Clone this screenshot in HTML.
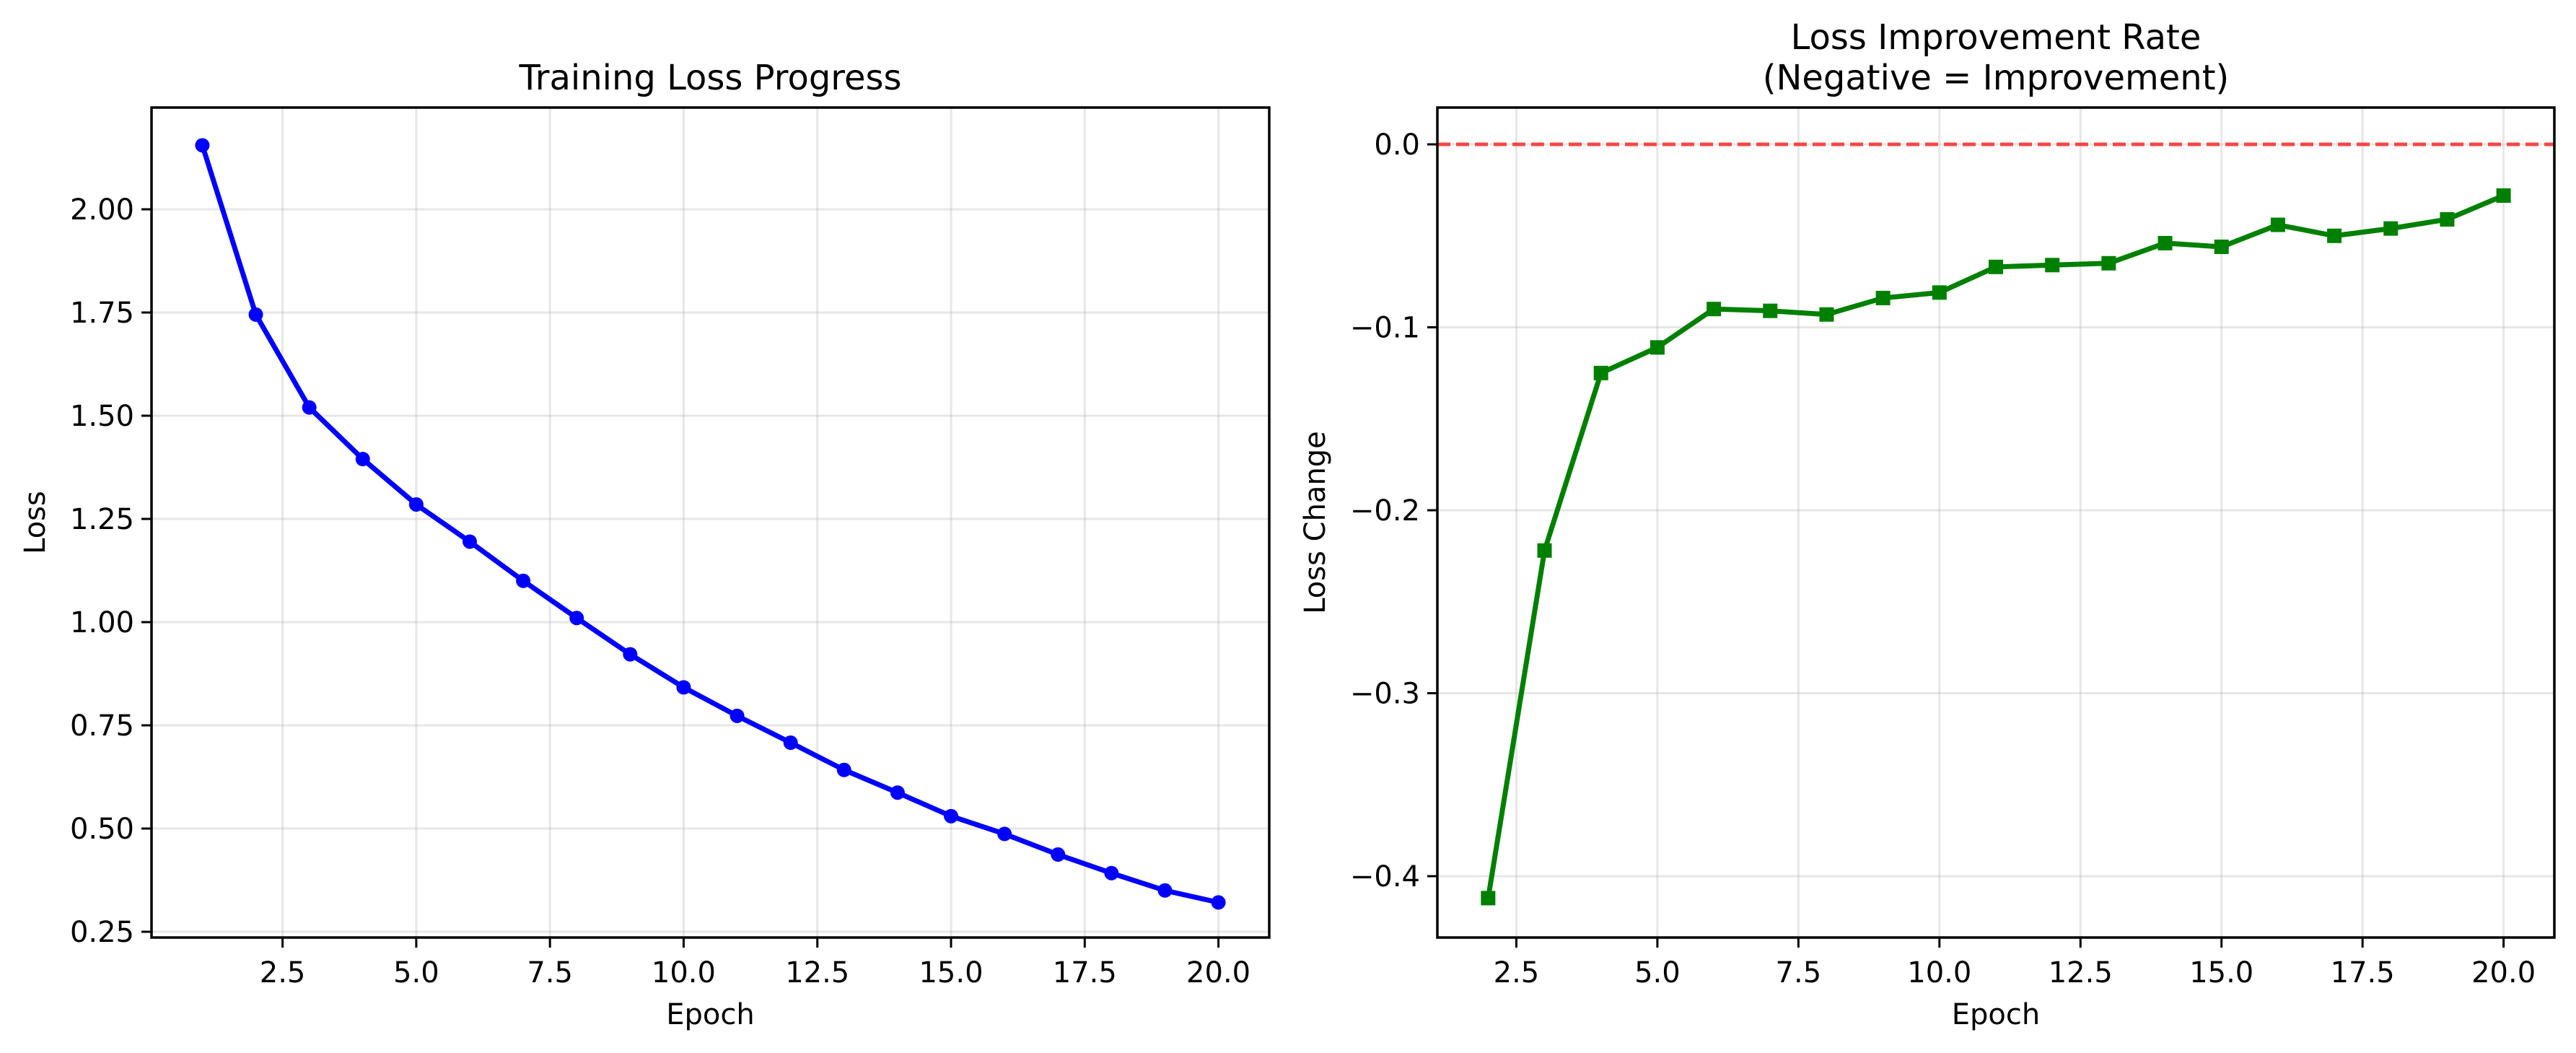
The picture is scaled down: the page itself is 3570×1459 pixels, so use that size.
<!DOCTYPE html>
<html><head><meta charset="utf-8"><style>
html,body{margin:0;padding:0;background:#fff}
svg{display:block;font-family:"DejaVu Sans","Liberation Sans",sans-serif}
</style></head><body>
<svg id="chart" width="3570" height="1459" viewBox="0 0 3570 1459" xmlns="http://www.w3.org/2000/svg"></svg>
<script>
const epochsLoss = [1,2,3,4,5,6,7,8,9,10,11,12,13,14,15,16,17,18,19,20];
const lossValues = [2.155,1.745,1.52,1.395,1.285,1.195,1.10,1.01,0.922,0.842,0.773,0.708,0.642,0.587,0.530,0.487,0.437,0.392,0.350,0.321];
const epochsDiff = [2,3,4,5,6,7,8,9,10,11,12,13,14,15,16,17,18,19,20];
const diffValues = [-0.412,-0.222,-0.125,-0.111,-0.090,-0.091,-0.093,-0.084,-0.081,-0.067,-0.066,-0.065,-0.054,-0.056,-0.044,-0.050,-0.046,-0.041,-0.028];
const xTicks = [2.5,5.0,7.5,10.0,12.5,15.0,17.5,20.0];
const xTickLabels = ["2.5","5.0","7.5","10.0","12.5","15.0","17.5","20.0"];
const yTicksLoss = [0.25,0.5,0.75,1.0,1.25,1.5,1.75,2.0];
const yTickLabelsLoss = ["0.25","0.50","0.75","1.00","1.25","1.50","1.75","2.00"];
const yTicksDiff = [-0.4,-0.3,-0.2,-0.1,0.0];
const yTickLabelsDiff = ["\u22120.4","\u22120.3","\u22120.2","\u22120.1","0.0"];

const NS="http://www.w3.org/2000/svg";
const svg=document.getElementById('chart');
function mk(tag,attrs,parent){const e=document.createElementNS(NS,tag);for(const k in attrs)e.setAttribute(k,attrs[k]);(parent||svg).appendChild(e);return e;}

function panel(opt){
  const {L,R,T,B,xmin,xmax,ymin,ymax}=opt;
  const g=mk('g',{});
  
  
  const sx=v=>L+(v-xmin)/(xmax-xmin)*(R-L);
  const sy=v=>B-(v-ymin)/(ymax-ymin)*(B-T);
  // grid
  opt.xt.forEach((t,i)=>{
    const l=mk('line',{x1:sx(t),x2:sx(t),y1:T,y2:B,stroke:'#b0b0b0','stroke-opacity':0.3,'stroke-width':3},g);
    
    
  });
  opt.yt.forEach((t,i)=>{
    const l=mk('line',{x1:L,x2:R,y1:sy(t),y2:sy(t),stroke:'#b0b0b0','stroke-opacity':0.3,'stroke-width':3},g);
    
    
  });
  if(opt.zeroLine){
    const z=mk('line',{x1:L,x2:R,y1:sy(0),y2:sy(0),stroke:'#ff0000','stroke-opacity':0.7,'stroke-width':5,'stroke-dasharray':'18 8'},g);
    
    
  }
  // series line
  const pts=opt.xs.map((x,i)=>sx(x)+','+sy(opt.ys[i])).join(' ');
  const pl=mk('polyline',{points:pts,fill:'none',stroke:opt.color,'stroke-width':7,'stroke-linejoin':'round','stroke-linecap':'round'},g);
  
  
  opt.xs.forEach((x,i)=>{
    let m;
    if(opt.marker==='o') m=mk('circle',{cx:sx(x),cy:sy(opt.ys[i]),r:10,fill:opt.color},g);
    else m=mk('rect',{x:sx(x)-10,y:sy(opt.ys[i])-10,width:20,height:20,fill:opt.color},g);
    
    
  });
  // frame
  const fr=mk('rect',{x:L,y:T,width:R-L,height:B-T,fill:'none',stroke:'#000','stroke-width':3.5},g);
  
  
  // ticks
  opt.xt.forEach((t,i)=>{
    const tk=mk('line',{x1:sx(t),x2:sx(t),y1:B,y2:B+14,stroke:'#000','stroke-width':3},g);
    
    
    const tx=mk('text',{x:sx(t),y:B+62,'font-size':40,'text-anchor':'middle',fill:'#000'},g);
    tx.textContent=opt.xtl[i];
    
    
  });
  opt.yt.forEach((t,i)=>{
    const tk=mk('line',{x1:L-14,x2:L,y1:sy(t),y2:sy(t),stroke:'#000','stroke-width':3},g);
    
    
    const tx=mk('text',{x:L-24,y:sy(t)+14,'font-size':40,'text-anchor':'end',fill:'#000'},g);
    tx.textContent=opt.ytl[i];
    
    
  });
  const xl=mk('text',{x:(L+R)/2,y:1419,'font-size':40,'text-anchor':'middle'},g);
  xl.textContent='Epoch';
  
  
  const yl=mk('text',{x:opt.ylx,y:(T+B)/2,'font-size':40,'text-anchor':'middle',transform:`rotate(-90 ${opt.ylx} ${(T+B)/2})`},g);
  yl.textContent=opt.ylabel;
  
  
  opt.title.forEach((line,i)=>{
    const tt=mk('text',{x:(L+R)/2,y:opt.titleY[i],'font-size':48,'text-anchor':'middle'},g);
    tt.textContent=line;
    
    
  });
}

panel({name:'training-loss-panel',L:210,R:1759,T:149,B:1299,xmin:0.05,xmax:20.95,ymin:0.25-(1291-1299)/-572,ymax:2.0+(290-149)/572,
  xs:epochsLoss,ys:lossValues,color:'#0000ff',marker:'o',seriesName:'loss-line',
  xt:xTicks,xtl:xTickLabels,yt:yTicksLoss,ytl:yTickLabelsLoss,ylabel:'Loss',ylx:62,
  title:['Training Loss Progress'],titleY:[124]});
panel({name:'loss-improvement-panel',L:1992,R:3540,T:149,B:1299,xmin:1.1,xmax:20.9,ymin:-0.4-(1299-1214)/2535,ymax:0+(200-149)/2535,
  xs:epochsDiff,ys:diffValues,color:'#008000',marker:'s',seriesName:'loss-change-line',zeroLine:true,
  xt:xTicks,xtl:xTickLabels,yt:yTicksDiff,ytl:yTickLabelsDiff,ylabel:'Loss Change',ylx:1836,
  title:['Loss Improvement Rate','(Negative = Improvement)'],titleY:[68,124]});
</script>
</body></html>
